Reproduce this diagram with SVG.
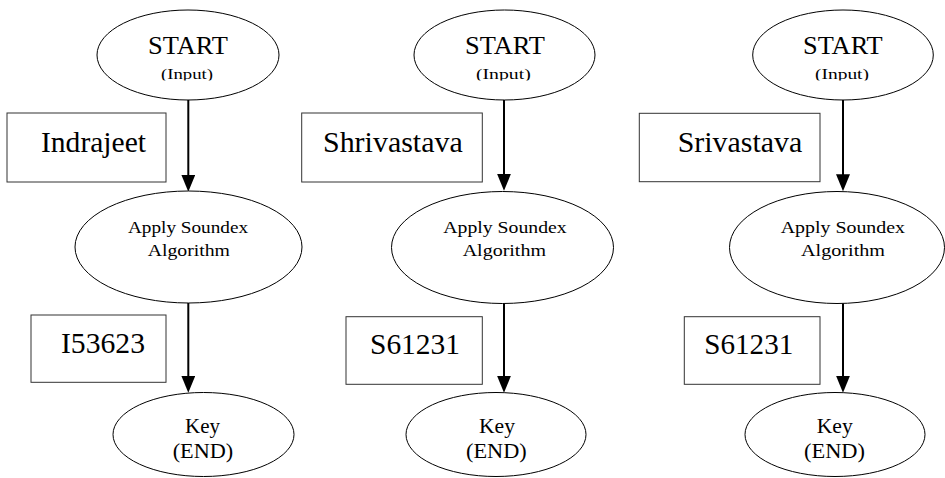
<svg xmlns="http://www.w3.org/2000/svg" width="945" height="478" viewBox="0 0 945 478">
<style>
  .el { fill: #ffffff; stroke: #000000; stroke-width: 1; }
  .bx { fill: #ffffff; stroke: #333333; stroke-width: 1; }
  .edge { fill: none; stroke: #000000; stroke-width: 2; }
  text { font-family: "Liberation Serif", "Times New Roman", serif; fill: #000000; }
  .t-start { font-size: 25px; }
  .t-input { font-size: 15px; }
  .t-name { font-size: 29px; }
  .t-algo { font-size: 17px; }
  .t-key { font-size: 22px; }
</style>
<defs>
  <marker id="ah" markerUnits="userSpaceOnUse" markerWidth="17" markerHeight="14" refX="7" refY="7" orient="auto">
    <path d="M0,0 L17,7 L0,14 Z" fill="#000000"/>
  </marker>
  <clipPath id="clipInput" clipPathUnits="userSpaceOnUse">
    <rect x="0" y="0" width="945" height="80.5"/>
  </clipPath>
</defs>
<rect x="0" y="0" width="945" height="478" fill="#ffffff"/>

<g id="connectors">
  <path class="edge" d="M188.3,100 L188.3,181.7" marker-end="url(#ah)"/>
  <path class="edge" d="M188.3,303 L188.3,382.7" marker-end="url(#ah)"/>
  <path class="edge" d="M504,100 L504,180.7" marker-end="url(#ah)"/>
  <path class="edge" d="M504,303.3 L504,382.7" marker-end="url(#ah)"/>
  <path class="edge" d="M843,100 L843,181.2" marker-end="url(#ah)"/>
  <path class="edge" d="M843,303.3 L843,382.7" marker-end="url(#ah)"/>
</g>

<!-- Column 1 -->
<g id="start1">
  <ellipse class="el" cx="188" cy="55" rx="91" ry="45"/>
  <text class="t-start" x="148" y="54.3" textLength="80" lengthAdjust="spacingAndGlyphs">START</text>
  <text class="t-input" x="161" y="78.5" textLength="52" lengthAdjust="spacingAndGlyphs" clip-path="url(#clipInput)">(Input)</text>
</g>
<g id="name1">
  <rect class="bx" x="7" y="113" width="159" height="69"/>
  <text class="t-name" x="41" y="152" textLength="105" lengthAdjust="spacingAndGlyphs">Indrajeet</text>
</g>
<g id="algo1">
  <ellipse class="el" cx="188.5" cy="247" rx="113.5" ry="56"/>
  <text class="t-algo" x="128" y="233" textLength="120" lengthAdjust="spacingAndGlyphs">Apply Soundex</text>
  <text class="t-algo" x="147.7" y="255.5" textLength="82.3" lengthAdjust="spacingAndGlyphs">Algorithm</text>
</g>
<g id="code1">
  <rect class="bx" x="31" y="315" width="135" height="67.3"/>
  <text class="t-name" x="61" y="353" textLength="84" lengthAdjust="spacingAndGlyphs">I53623</text>
</g>
<g id="key1">
  <ellipse class="el" cx="203.5" cy="434.5" rx="90.5" ry="42"/>
  <text class="t-key" x="185" y="433" textLength="35" lengthAdjust="spacingAndGlyphs">Key</text>
  <text class="t-key" x="172.7" y="458" textLength="60.6" lengthAdjust="spacingAndGlyphs">(END)</text>
</g>

<!-- Column 2 -->
<g id="start2">
  <ellipse class="el" cx="504.5" cy="55" rx="90.5" ry="45"/>
  <text class="t-start" x="465" y="54.3" textLength="80" lengthAdjust="spacingAndGlyphs">START</text>
  <text class="t-input" x="476" y="78.5" textLength="54.7" lengthAdjust="spacingAndGlyphs" clip-path="url(#clipInput)">(Input)</text>
</g>
<g id="name2">
  <rect class="bx" x="301.7" y="113" width="180.6" height="69"/>
  <text class="t-name" x="323" y="152" textLength="139.7" lengthAdjust="spacingAndGlyphs">Shrivastava</text>
</g>
<g id="algo2">
  <ellipse class="el" cx="502.5" cy="247.5" rx="111" ry="56"/>
  <text class="t-algo" x="443.3" y="233" textLength="123.4" lengthAdjust="spacingAndGlyphs">Apply Soundex</text>
  <text class="t-algo" x="462.7" y="255.5" textLength="83.3" lengthAdjust="spacingAndGlyphs">Algorithm</text>
</g>
<g id="code2">
  <rect class="bx" x="346" y="316.7" width="136.3" height="67.6"/>
  <text class="t-name" x="370" y="354.3" textLength="90" lengthAdjust="spacingAndGlyphs">S61231</text>
</g>
<g id="key2">
  <ellipse class="el" cx="496" cy="434.5" rx="90" ry="42"/>
  <text class="t-key" x="479" y="433" textLength="36" lengthAdjust="spacingAndGlyphs">Key</text>
  <text class="t-key" x="466" y="457.5" textLength="60.7" lengthAdjust="spacingAndGlyphs">(END)</text>
</g>

<!-- Column 3 -->
<g id="start3">
  <ellipse class="el" cx="843" cy="55" rx="90.3" ry="45"/>
  <text class="t-start" x="803" y="54.3" textLength="79.7" lengthAdjust="spacingAndGlyphs">START</text>
  <text class="t-input" x="815" y="78.5" textLength="54" lengthAdjust="spacingAndGlyphs" clip-path="url(#clipInput)">(Input)</text>
</g>
<g id="name3">
  <rect class="bx" x="639.3" y="113.3" width="180.7" height="68.4"/>
  <text class="t-name" x="677.7" y="152.3" textLength="124.6" lengthAdjust="spacingAndGlyphs">Srivastava</text>
</g>
<g id="algo3">
  <ellipse class="el" cx="837" cy="247.5" rx="107.5" ry="56"/>
  <text class="t-algo" x="780.7" y="233" textLength="124.3" lengthAdjust="spacingAndGlyphs">Apply Soundex</text>
  <text class="t-algo" x="801" y="255.5" textLength="84" lengthAdjust="spacingAndGlyphs">Algorithm</text>
</g>
<g id="code3">
  <rect class="bx" x="684.3" y="316.7" width="135.7" height="67.6"/>
  <text class="t-name" x="704.3" y="354" textLength="89" lengthAdjust="spacingAndGlyphs">S61231</text>
</g>
<g id="key3">
  <ellipse class="el" cx="835" cy="434.5" rx="90" ry="42"/>
  <text class="t-key" x="816.7" y="433" textLength="36" lengthAdjust="spacingAndGlyphs">Key</text>
  <text class="t-key" x="804" y="457.5" textLength="61" lengthAdjust="spacingAndGlyphs">(END)</text>
</g>
</svg>
